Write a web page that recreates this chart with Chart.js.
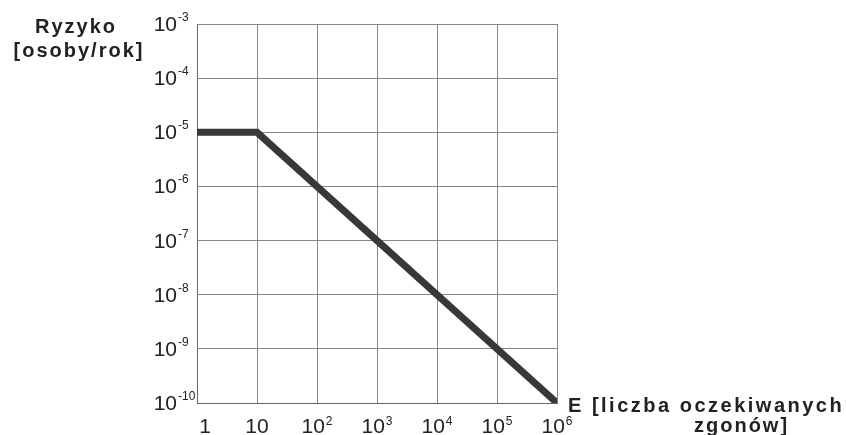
<!DOCTYPE html>
<html>
<head>
<meta charset="utf-8">
<script src="https://cdn.jsdelivr.net/npm/chart.js@4"></script>
<style>
  html, body { margin: 0; padding: 0; background: #fff; }
  #wrap { width: 846px; height: 435px; }
</style>
</head>
<body>
<div id="wrap"><canvas id="riskChart" width="846" height="435"></canvas></div>
<script>
// data
const fatalities = [1, 10, 1e6];
const risk = [1e-5, 1e-5, 1e-10];
const xTicks = [1, 10, 1e2, 1e3, 1e4, 1e5, 1e6];
const yTicks = [1e-10, 1e-9, 1e-8, 1e-7, 1e-6, 1e-5, 1e-4, 1e-3];

const FONT = '"Liberation Sans", Arial, sans-serif';

// split a power of ten into base text and exponent text
function powParts(v) {
    const e = Math.round(Math.log10(v));
    if (e === 0) return ['1', ''];
    if (e === 1) return ['10', ''];
    return ['10', String(e)];
}

// tick labels with real superscripts, placed through the scales
const tickPlugin = {
    id: 'powTicks',
    afterDraw(chart) {
        const c = chart.ctx;
        const xs = chart.scales.x, ys = chart.scales.y;
        const bigFont = '21px ' + FONT, smallFont = '12px ' + FONT;
        c.save();
        c.fillStyle = '#222';
        c.textBaseline = 'alphabetic';

        // y axis: "10" ends at a fixed spot, exponent runs to the right
        const yRight = ys.right - 20;
        ys.ticks.forEach(t => {
            const py = ys.getPixelForValue(t.value);
            const [base, exp] = powParts(t.value);
            c.font = bigFont;
            c.textAlign = 'right';
            c.fillText(base, yRight, py + 7);
            if (exp) {
                c.font = smallFont;
                c.textAlign = 'left';
                c.fillText(exp, yRight + 1, py - 3);
            }
        });

        // x axis: base + exponent centred on the grid line
        const yBase = xs.top + 30;
        xs.ticks.forEach(t => {
            const px = xs.getPixelForValue(t.value);
            const [base, exp] = powParts(t.value);
            c.font = bigFont;
            const wb = c.measureText(base).width;
            c.font = smallFont;
            const we = exp ? c.measureText(exp).width + 1 : 0;
            let left = px - (wb + we) / 2;
            if (t.value === 1) left += 8;
            c.textAlign = 'left';
            c.font = bigFont;
            c.fillText(base, left, yBase);
            if (exp) {
                c.font = smallFont;
                c.fillText(exp, left + wb + 1, yBase - 8);
            }
        });
        c.restore();
    }
};

const titlePlugin = {
    id: 'axisTitles',
    afterDraw(chart) {
        const c = chart.ctx;
        c.save();
        c.fillStyle = '#222';
        c.font = 'bold 20px ' + FONT;
        c.textBaseline = 'alphabetic';
        c.letterSpacing = '2px';
        c.textAlign = 'center';
        c.fillText('Ryzyko', 76, 33);
        c.fillText('[osoby/rok]', 79, 57);
        c.textAlign = 'left';
        c.letterSpacing = '2.5px';
        c.fillText('E [liczba oczekiwanych', 568, 412);
        c.letterSpacing = '2px';
        c.fillText('zgonów]', 694, 432);
        c.restore();
    }
};

const ctx = document.getElementById('riskChart').getContext('2d');
new Chart(ctx, {
    type: 'scatter',
    data: {
        datasets: [{
            data: fatalities.map((x, i) => ({ x: x, y: risk[i] })),
            showLine: true,
            borderColor: '#383838',
            borderWidth: 7,
            pointRadius: 0,
            borderJoinStyle: 'miter',
            borderCapStyle: 'butt'
        }]
    },
    options: {
        responsive: false,
        animation: false,
        layout: { padding: { left: 0, right: 289, top: 24, bottom: 0 } },
        plugins: { legend: { display: false }, tooltip: { enabled: false } },
        scales: {
            x: {
                type: 'logarithmic',
                min: 1,
                max: 1e6,
                afterBuildTicks: s => { s.ticks = xTicks.map(v => ({ value: v })); },
                afterFit: s => { s.height = 32; },
                grid: { color: '#868686', lineWidth: 1, drawTicks: false },
                border: { color: '#666', width: 1 },
                ticks: { display: false }
            },
            y: {
                type: 'logarithmic',
                min: 1e-10,
                max: 1e-3,
                afterBuildTicks: s => { s.ticks = yTicks.map(v => ({ value: v })); },
                afterFit: s => { s.width = 197; },
                grid: { color: '#868686', lineWidth: 1, drawTicks: false },
                border: { color: '#666', width: 1 },
                ticks: { display: false }
            }
        }
    },
    plugins: [tickPlugin, titlePlugin]
});
</script>
</body>
</html>
